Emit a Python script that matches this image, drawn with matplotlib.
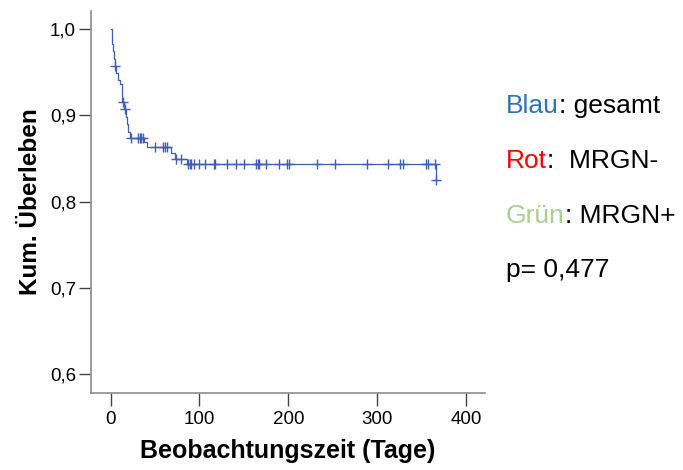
import numpy as np
import matplotlib
matplotlib.use("Agg")
import matplotlib.pyplot as plt

plt.rcParams['font.family'] = ['Liberation Sans', 'DejaVu Sans']

# Kaplan-Meier Stufen (Zeit, Überleben nach dem Ereignis)
event_times = [0, 1, 2, 3, 4, 4.5, 6.5, 8, 11, 12.5, 13, 15, 17, 18.5, 19.5, 21.5,
               38, 41, 67.5, 72, 85.5, 366]
surv = [1.0, 0.9915, 0.983, 0.975, 0.966, 0.958, 0.949, 0.941, 0.936, 0.924, 0.916,
        0.907, 0.898, 0.890, 0.881, 0.874, 0.869, 0.863, 0.856, 0.850, 0.844, 0.825]

# zensierte Fälle
censor_times = [5, 13.5, 15.8, 23.3, 30.8, 33, 34.6, 36.9, 49.6, 58.6, 61.7, 63.9,
                73.5, 79, 87.6, 89.1, 90.6, 94.3, 99.6, 106.3, 116.1, 118, 131.2,
                141.3, 150.7, 163.5, 165.7, 167.6, 174.4, 189.4, 198.4, 200.3, 232.6,
                252.5, 288.6, 312.7, 326.2, 328.8, 355.1, 357.4, 365.7, 366.5]

y_ticks = [0.6, 0.7, 0.8, 0.9, 1.0]
y_ticklabels = ["0,6", "0,7", "0,8", "0,9", "1,0"]
x_ticks = [0, 100, 200, 300, 400]

legend_lines = [("Blau", ": gesamt", "#2e75b6"),
                ("Rot", ":  MRGN-", "#ff0000"),
                ("Grün", ": MRGN+", "#a9d18e")]
p_text = "p= 0,477"

line_col = "#3f5fb5"

fig = plt.figure(figsize=(6.83, 4.70), dpi=100)
ax = fig.add_axes([0.1328, 0.1632, 0.710 - 0.1328, 0.9772 - 0.1632])

t_end = 366.5
ts = event_times + [t_end]
ss = surv + [surv[-1]]
ax.step(ts, ss, where='post', color=line_col, lw=0.9)

# Überleben zum Zeitpunkt der Zensur
ev = np.array(event_times)
sv = np.array(surv)
c_t = np.array(censor_times)
c_s = np.array([sv[np.searchsorted(ev, t, side='right') - 1] for t in c_t])
c_s[-2] = 0.844
ax.plot(c_t, c_s, linestyle='none', marker='+', ms=6.5, mew=1.0, color=line_col)

ax.set_xlim(-22.5, 421.5)
ax.set_ylim(0.5776, 1.0216)
ax.set_xticks(x_ticks)
ax.set_yticks(y_ticks)
ax.set_yticklabels(y_ticklabels)

for s in ['top', 'right']:
    ax.spines[s].set_visible(False)
for s in ['left', 'bottom']:
    ax.spines[s].set_color('#8c8c8c')
    ax.spines[s].set_linewidth(1.2)
ax.tick_params(axis='both', direction='out', length=9, width=1.0, color='#444444',
               labelsize=13.5)
ax.tick_params(axis='y', pad=1.5)
ax.tick_params(axis='x', pad=4)

ax.set_xlabel("Beobachtungszeit (Tage)", fontsize=18, fontweight='bold', labelpad=8)
ax.set_ylabel("Kum. Überleben", fontsize=17.5, fontweight='bold', labelpad=6)

# Legende als Text rechts
ys = [0.775, 0.657, 0.541]
for (word, rest, col), yy in zip(legend_lines, ys):
    t1 = fig.text(0.741, yy, word, color=col, fontsize=19, va='center')
    fig.canvas.draw()
    bb = t1.get_window_extent()
    fig.text(bb.x1 / fig.bbox.width, yy, rest, color='black', fontsize=19, va='center')
fig.text(0.741, 0.425, p_text, color='black', fontsize=19, va='center')

fig.savefig("out.png", dpi=100)
